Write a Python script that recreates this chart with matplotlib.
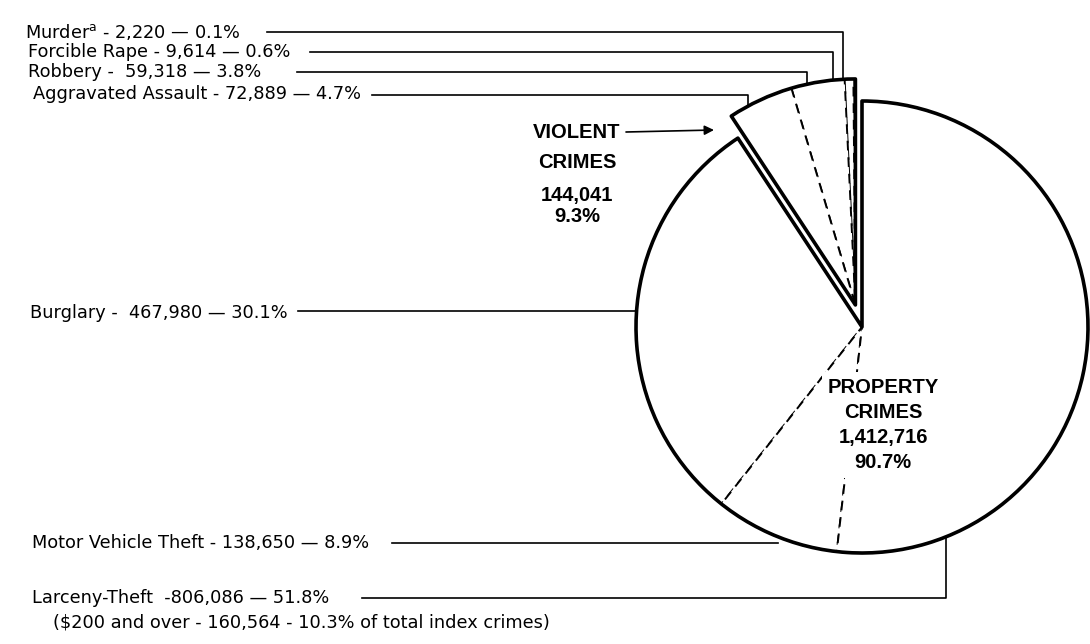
import matplotlib
matplotlib.use("Agg")
import matplotlib.pyplot as plt
import numpy as np

W, H = 1090, 644

# ---- data ----
violent_names = ["Murder", "Forcible Rape", "Robbery", "Aggravated Assault"]
violent_values = [2220, 9614, 59318, 72889]
property_names = ["Burglary", "Motor Vehicle Theft", "Larceny-Theft"]
property_values = [467980, 138650, 806086]
violent_labels = [r"Murder$^{\mathrm{a}}$ - 2,220 — 0.1%",
                  "Forcible Rape - 9,614 — 0.6%",
                  "Robbery -  59,318 — 3.8%",
                  "Aggravated Assault - 72,889 — 4.7%"]
property_labels = ["Burglary -  467,980 — 30.1%",
                   "Motor Vehicle Theft - 138,650 — 8.9%",
                   "Larceny-Theft  -806,086 — 51.8%"]
larceny_note = "($200 and over - 160,564 - 10.3% of total index crimes)"
violent_block = ["VIOLENT", "CRIMES", "144,041", "9.3%"]
property_block = "PROPERTY\nCRIMES\n1,412,716\n90.7%"

plt.rcParams['font.family'] = ['DejaVu Sans']
plt.rcParams['mathtext.fontset'] = 'dejavusans'

fig = plt.figure(figsize=(W / 100, H / 100), dpi=100)
ax = fig.add_axes([0, 0, 1, 1])

cx, cy, R = 862, 327, 226
EXPL = 23
vt = sum(violent_values)
pt = sum(property_values)
total = vt + pt
vfr = [v / total for v in violent_values]
pfr = [v / total for v in property_values]

theta_m = np.deg2rad(-90 - 0.5 * 360 * vt / total)
vcx, vcy = cx + EXPL * np.cos(theta_m), cy + EXPL * np.sin(theta_m)

sub = dict(facecolor='white', edgecolor='black', linewidth=1.4, linestyle=(0, (5, 3.5)))
ax.pie(vfr, center=(vcx, vcy), radius=R, startangle=-90, counterclock=False,
       normalize=False, wedgeprops=sub)
ax.pie(pfr, center=(cx, cy), radius=R, startangle=-90 - 360 * vt / total,
       counterclock=False, normalize=False, wedgeprops=sub)
ax.pie([vt, pt], explode=[EXPL, 0], center=(cx, cy), radius=R, startangle=-90,
       counterclock=False,
       wedgeprops=dict(facecolor='none', edgecolor='black', linewidth=2.6,
                       joinstyle='round'))

ax.set_xlim(0, W)
ax.set_ylim(H, 0)
ax.set_aspect('auto')
ax.axis('off')


def y_top_violent(x):
    return vcy - np.sqrt(R ** 2 - (x - vcx) ** 2)


def x_left_main(y):
    return cx - np.sqrt(R ** 2 - (y - cy) ** 2)


def y_bot_main(x):
    return cy + np.sqrt(R ** 2 - (x - cx) ** 2)


LW = 1.2
FS = 12.8
# violent labels
lab_pos = [(25, 32), (28, 52), (28, 72), (33, 94)]
lead = [(267, 843, 32), (310, 833, 52), (297, 807, 72), (372, 748, 95)]
for (tx, ty), s, (x0, x1, ly) in zip(lab_pos, violent_labels, lead):
    ax.text(tx, ty, s, ha='left', va='center', fontsize=FS)
    ax.plot([x0, x1, x1], [ly, ly, y_top_violent(x1)], color='black', lw=LW)

# property labels
ax.text(30, 313, property_labels[0], ha='left', va='center', fontsize=FS)
ax.plot([298, x_left_main(311)], [311, 311], color='black', lw=LW)
ax.text(32, 543, property_labels[1], ha='left', va='center', fontsize=FS)
ax.plot([392, 778], [543, 543], color='black', lw=LW)
ax.text(32, 598, property_labels[2], ha='left', va='center', fontsize=FS)
ax.plot([362, 946, 946], [598, 598, y_bot_main(946)], color='black', lw=LW)
ax.text(53, 623, larceny_note, ha='left', va='center', fontsize=FS)

# violent block
BF = ['Liberation Sans', 'DejaVu Sans']
for s, y in zip(violent_block, [132, 162, 195, 216]):
    ax.text(577, y, s, ha='center', va='center', fontsize=14.5, fontweight='bold',
            family=BF)
ax.annotate('', xy=(714, 130), xytext=(626, 132),
            arrowprops=dict(arrowstyle='-|>', color='black', lw=LW,
                            mutation_scale=14, shrinkA=0, shrinkB=0))

# property block
ax.text(883, 425, property_block, ha='center', va='center', fontsize=14.5,
        fontweight='bold', linespacing=1.4, family=BF,
        bbox=dict(facecolor='white', edgecolor='none', pad=4))

fig.savefig("out.png", dpi=100)
